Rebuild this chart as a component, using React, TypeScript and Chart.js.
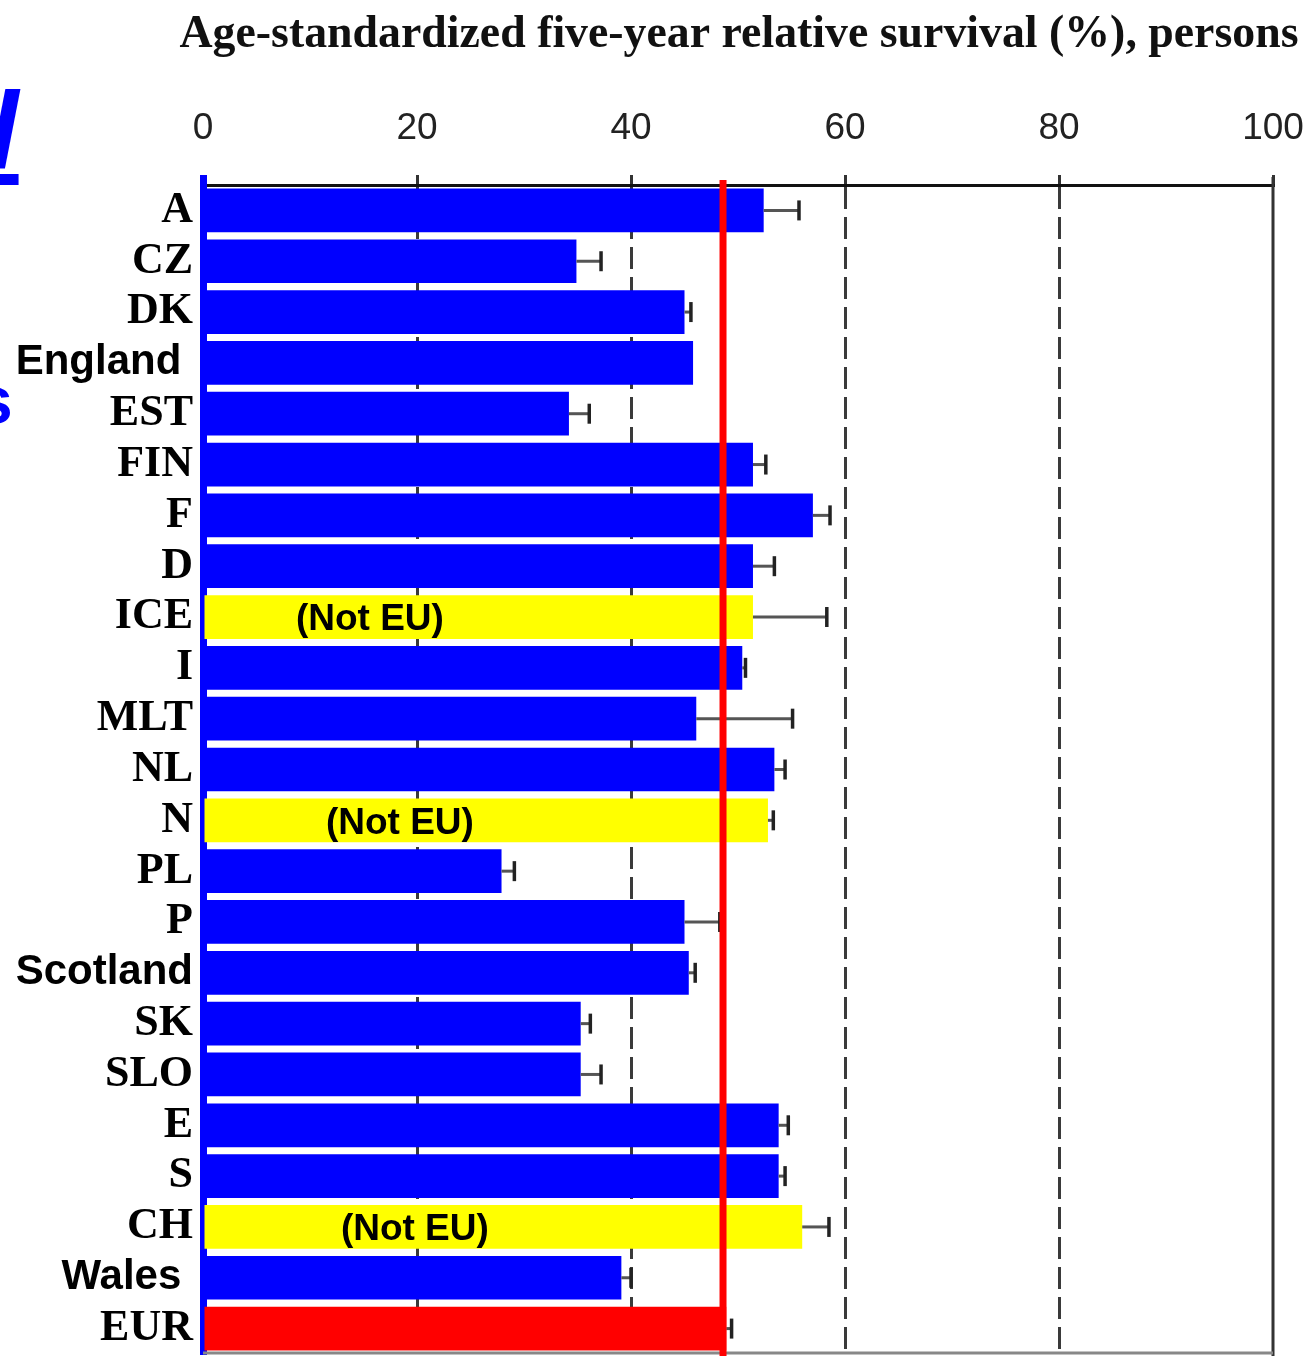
import React, { useEffect, useRef } from "react";
import { Chart, registerables } from "chart.js";

Chart.register(...registerables);

// ---------- data ----------
const categories = [
  "A", "CZ", "DK", "England", "EST", "FIN", "F", "D", "ICE", "I", "MLT", "NL",
  "N", "PL", "P", "Scotland", "SK", "SLO", "E", "S", "CH", "Wales", "EUR",
];
const survival = [
  52.4, 34.9, 45.0, 45.8, 34.2, 51.4, 57.0, 51.4, 51.4, 50.4, 46.1, 53.4,
  52.8, 27.9, 45.0, 45.4, 35.3, 35.3, 53.8, 53.8, 56.0, 39.1, 48.9,
];
const upperCI: (number | null)[] = [
  55.7, 37.2, 45.6, null, 36.1, 52.6, 58.6, 53.4, 58.3, 50.7, 55.1, 54.4,
  53.3, 29.1, 48.3, 46.0, 36.2, 37.2, 54.7, 54.4, 58.5, 40.0, 49.4,
];
const nonEU = ["ICE", "N", "CH"];
const nonEUNoteCenter = [15.6, 18.4, 19.8];
const sansLabels = ["England", "Scotland", "Wales"];
const referenceLabel = "EUR";
const europeanAverage = 48.6;
const xTicks = [0, 20, 40, 60, 80, 100];
const titleText = "Age-standardized five-year relative survival (%), persons";
const noteText = "(Not EU)";

// ---------- styles ----------
const BLUE = "#0000ff";
const YELLOW = "#ffff00";
const RED = "#ff0000";
const SANS = "'Liberation Sans', Arial, sans-serif";
const SERIF = "'Liberation Serif', 'Times New Roman', serif";
const labelSuffix: Record<string, string> = { England: " ", Wales: " " };

const overlayPlugin = {
  id: "overlay",
  afterDatasetsDraw(chart: any) {
    const { ctx, chartArea } = chart;
    const x = chart.scales.x;
    const y = chart.scales.y;
    ctx.save();
    // "(Not EU)" notes
    ctx.font = `bold 37px ${SANS}`;
    ctx.fillStyle = "#000";
    ctx.textAlign = "center";
    ctx.textBaseline = "middle";
    nonEU.forEach((c, k) => {
      const i = categories.indexOf(c);
      ctx.fillText(noteText, x.getPixelForValue(nonEUNoteCenter[k]), y.getPixelForValue(i) + 3);
    });
    // error bars (upper whisker)
    ctx.lineCap = "butt";
    upperCI.forEach((u, i) => {
      if (u == null) return;
      const x0 = x.getPixelForValue(survival[i]);
      const x1 = x.getPixelForValue(u);
      const yc = y.getPixelForValue(i);
      ctx.strokeStyle = "#555";
      ctx.lineWidth = 3;
      ctx.beginPath();
      ctx.moveTo(x0, yc);
      ctx.lineTo(x1, yc);
      ctx.stroke();
      ctx.strokeStyle = "#222";
      ctx.lineWidth = 3.5;
      ctx.beginPath();
      ctx.moveTo(x1, yc - 10);
      ctx.lineTo(x1, yc + 10);
      ctx.stroke();
    });
    // right & bottom frame
    ctx.strokeStyle = "#333";
    ctx.lineWidth = 3;
    ctx.beginPath();
    ctx.moveTo(chartArea.right, chartArea.top - 8);
    ctx.lineTo(chartArea.right, chart.height);
    ctx.stroke();
    ctx.strokeStyle = "#888";
    ctx.beginPath();
    ctx.moveTo(chartArea.left, chartArea.bottom - 1);
    ctx.lineTo(chartArea.right, chartArea.bottom - 1);
    ctx.stroke();
    // European average reference line
    const rx = x.getPixelForValue(europeanAverage);
    ctx.strokeStyle = RED;
    ctx.lineWidth = 7;
    ctx.beginPath();
    ctx.moveTo(rx, chartArea.top - 5);
    ctx.lineTo(rx, chart.height);
    ctx.stroke();
    ctx.restore();
  },
  afterDraw(chart: any) {
    const { ctx, chartArea } = chart;
    ctx.save();
    ctx.font = `bold 46px ${SERIF}`;
    ctx.fillStyle = "#111";
    ctx.textAlign = "center";
    ctx.textBaseline = "alphabetic";
    ctx.fillText(titleText, (chartArea.left + chartArea.right) / 2 + 1, 47, 1119);
    ctx.restore();
  },
};

export default function App() {
  const canvasRef = useRef<HTMLCanvasElement | null>(null);

  useEffect(() => {
    const canvas = canvasRef.current;
    if (!canvas) return;
    const colors = categories.map((c) =>
      c === referenceLabel ? RED : nonEU.includes(c) ? YELLOW : BLUE
    );
    const chart = new Chart(canvas, {
      type: "bar",
      data: {
        labels: categories,
        datasets: [
          {
            data: survival,
            backgroundColor: colors,
            borderWidth: 0,
            barPercentage: 0.86,
            categoryPercentage: 1,
          },
        ],
      },
      options: {
        indexAxis: "y",
        animation: false,
        responsive: false,
        devicePixelRatio: 1,
        layout: { padding: { left: 0, right: 36, top: 0, bottom: 2 } },
        plugins: {
          legend: { display: false },
          tooltip: { enabled: false },
          title: { display: false },
        },
        scales: {
          x: {
            type: "linear",
            position: "top",
            min: 0,
            max: 100,
            afterBuildTicks: (scale: any) => {
              scale.ticks = xTicks.map((v) => ({ value: v }));
            },
            afterFit: (scale: any) => {
              scale.height = 185;
              scale.paddingLeft = 0;
              scale.paddingRight = 0;
            },
            ticks: {
              padding: 24,
              color: "#222",
              maxRotation: 0,
              autoSkip: false,
              font: { family: SANS, size: 37 },
            },
            grid: {
              display: true,
              drawOnChartArea: true,
              drawTicks: true,
              tickLength: 10,
              lineWidth: 3,
              color: (c: any) =>
                c.tick && (c.tick.value === 0 || c.tick.value === 100) ? "rgba(0,0,0,0)" : "#3a3a3a",
              tickColor: (c: any) => (c.tick && c.tick.value === 0 ? BLUE : "#333"),
              tickWidth: (c: any) => (c.tick && c.tick.value === 0 ? 7 : 3),
              tickBorderDash: [],
            },
            border: { display: true, color: "#111", width: 3, dash: [22, 8] },
          },
          y: {
            type: "category",
            z: 1,
            afterFit: (scale: any) => {
              scale.width = 203;
              scale.paddingTop = 0;
              scale.paddingBottom = 0;
            },
            ticks: {
              padding: 10,
              color: "#000",
              autoSkip: false,
              callback: (_v: any, i: number) => categories[i] + (labelSuffix[categories[i]] || ""),
              font: (c: any) => {
                const lab = categories[c.index];
                return sansLabels.includes(lab)
                  ? { family: SANS, size: 42, weight: "bold" }
                  : { family: SERIF, size: 44, weight: "bold" };
              },
            },
            grid: { display: false, drawTicks: false },
            border: { display: true, color: BLUE, width: 7 },
          },
        },
      },
      plugins: [overlayPlugin],
    } as any);
    return () => chart.destroy();
  }, []);

  return (
    <div
      style={{
        position: "absolute",
        left: 0,
        top: 0,
        width: 1309,
        height: 1356,
        overflow: "hidden",
        background: "#fff",
      }}
    >
      <canvas ref={canvasRef} width={1309} height={1356} style={{ display: "block" }} />
      <span
        style={{
          position: "absolute",
          left: -12,
          top: 75,
          font: `italic bold 110px ${SANS}`,
          lineHeight: 1,
          color: BLUE,
          textDecoration: "underline",
          whiteSpace: "pre",
        }}
      >
        l
      </span>
      <span
        style={{
          position: "absolute",
          left: -24,
          top: 367,
          font: `bold 66px ${SANS}`,
          lineHeight: 1,
          color: BLUE,
          whiteSpace: "pre",
        }}
      >
        s
      </span>
    </div>
  );
}
